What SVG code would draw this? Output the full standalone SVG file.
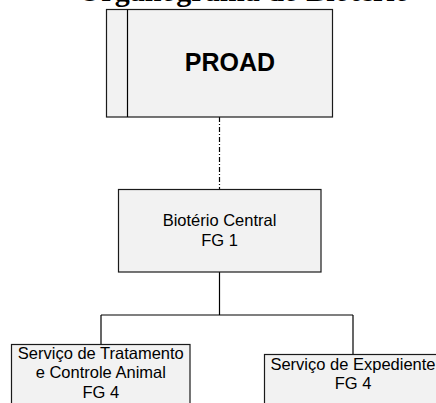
<svg xmlns="http://www.w3.org/2000/svg" width="436" height="403" viewBox="0 0 436 403">
  <style>
    .box { fill: #f2f2f2; stroke: #1a1a1a; stroke-width: 1.2; }
    .lbl { font-family: "Liberation Sans", Arial, sans-serif; font-size: 16.5px; fill: #000; text-anchor: middle; }
    .wire { stroke: #000; stroke-width: 1.2; fill: none; }
  </style>
  <rect width="436" height="403" fill="#ffffff"/>

  <!-- page heading, mostly above the visible area -->
  <text x="78" y="1" font-family="'Liberation Serif', 'Times New Roman', serif" font-weight="bold" font-size="30" fill="#000">Organograma do Biotério</text>

  <g id="connectors">
    <line class="wire" x1="219.5" y1="117" x2="219.5" y2="189" stroke-dasharray="5 2 1 2"/>
    <line class="wire" x1="219.5" y1="272" x2="219.5" y2="315"/>
    <line class="wire" x1="101" y1="315" x2="353" y2="315"/>
    <line class="wire" x1="101" y1="315" x2="101" y2="344"/>
    <line class="wire" x1="353" y1="315" x2="353" y2="354"/>
  </g>

  <g id="proad">
    <rect class="box" x="106.5" y="9.5" width="226" height="107.5"/>
    <line x1="127.5" y1="9.5" x2="127.5" y2="117" stroke="#000" stroke-width="1.2"/>
    <text x="230" y="71" font-family="'Liberation Sans', Arial, sans-serif" font-weight="bold" font-size="25" text-anchor="middle" fill="#000">PROAD</text>
  </g>

  <g id="bioterio-central">
    <rect class="box" x="118.5" y="189.5" width="202.5" height="82.5"/>
    <text class="lbl" x="219.5" y="225.5">Biotério Central</text>
    <text class="lbl" x="219.5" y="245.5">FG 1</text>
  </g>

  <g id="servico-tratamento">
    <rect class="box" x="11.5" y="344.5" width="178.5" height="70"/>
    <text class="lbl" x="100.8" y="359">Serviço de Tratamento</text>
    <text class="lbl" x="100.8" y="377.5">e Controle Animal</text>
    <text class="lbl" x="100.8" y="398">FG 4</text>
  </g>

  <g id="servico-expediente">
    <rect class="box" x="264.5" y="354.5" width="178" height="60"/>
    <text class="lbl" x="353" y="369.5">Serviço de Expediente</text>
    <text class="lbl" x="353" y="388.5">FG 4</text>
  </g>
</svg>
